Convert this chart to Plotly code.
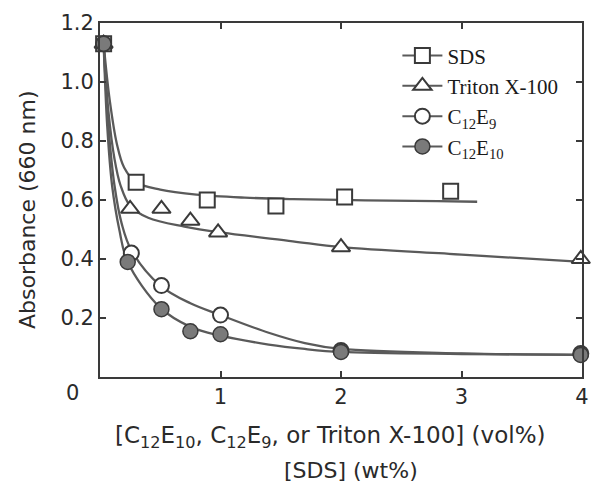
import plotly.graph_objects as go

# ---- measured data points ----
sds_x = [0.03, 0.30, 0.89, 1.46, 2.03, 2.91]
sds_y = [1.13, 0.66, 0.60, 0.58, 0.61, 0.63]

tri_x = [0.03, 0.25, 0.51, 0.75, 0.98, 2.00, 3.99]
tri_y = [1.13, 0.57, 0.57, 0.53, 0.49, 0.44, 0.40]

e9_x = [0.03, 0.26, 0.51, 1.00, 2.00, 3.99]
e9_y = [1.13, 0.42, 0.31, 0.21, 0.09, 0.08]

e10_x = [0.03, 0.23, 0.51, 0.75, 1.00, 2.00, 3.99]
e10_y = [1.13, 0.39, 0.23, 0.155, 0.145, 0.085, 0.075]

# ---- fitted curves ----
sds_fx = [0.03, 0.08, 0.14, 0.20, 0.30, 0.50, 0.80, 1.20, 1.60, 2.20, 2.80, 3.13]
sds_fy = [1.13, 0.94, 0.79, 0.71, 0.66, 0.635, 0.618, 0.608, 0.603, 0.599, 0.596, 0.594]

tri_fx = [0.03, 0.07, 0.12, 0.17, 0.25, 0.40, 0.70, 1.00, 1.60, 2.00, 3.00, 4.00]
tri_fy = [1.13, 0.90, 0.74, 0.65, 0.58, 0.54, 0.51, 0.49, 0.46, 0.44, 0.415, 0.39]

e9_fx = [0.03, 0.07, 0.12, 0.18, 0.26, 0.50, 0.75, 1.00, 1.40, 1.70, 2.00, 3.00, 4.00]
e9_fy = [1.13, 0.85, 0.65, 0.52, 0.43, 0.31, 0.25, 0.21, 0.15, 0.115, 0.095, 0.08, 0.075]

e10_fx = [0.03, 0.06, 0.10, 0.16, 0.23, 0.50, 0.75, 1.00, 1.40, 1.70, 2.00, 3.00, 4.00]
e10_fy = [1.13, 0.85, 0.65, 0.50, 0.39, 0.235, 0.17, 0.14, 0.11, 0.095, 0.085, 0.078, 0.075]

names = ["SDS", "Triton X-100", "C<sub>12</sub>E<sub>9</sub>", "C<sub>12</sub>E<sub>10</sub>"]
symbols = ["square-open", "triangle-up-open", "circle-open", "circle"]

x_ticks = [1, 2, 3, 4]
y_ticks = [0.2, 0.4, 0.6, 0.8, 1.0, 1.2]

LINE = "#5a5a5a"
EDGE = "#3a3a3a"
FILLC = "#7a7a7a"
SANS = "DejaVu Sans, Verdana, Arial"
SERIF = "Liberation Serif, Times New Roman"

fig = go.Figure()

fits = [(sds_fx, sds_fy), (tri_fx, tri_fy), (e9_fx, e9_fy), (e10_fx, e10_fy)]
pts = [(sds_x, sds_y), (tri_x, tri_y), (e9_x, e9_y), (e10_x, e10_y)]

for (fx, fy) in fits:
    fig.add_trace(go.Scatter(x=fx, y=fy, mode="lines", showlegend=False,
                             line=dict(color=LINE, width=2.3, shape="spline", smoothing=1.0),
                             hoverinfo="skip", cliponaxis=False))

def marker_style(sym):
    if sym == "circle":
        return dict(symbol="circle", size=15, color=FILLC, line=dict(color=EDGE, width=1.5))
    size = 15 if sym != "triangle-up-open" else 16
    return dict(symbol=sym.replace("-open", ""), size=size, color="white",
                line=dict(color=EDGE, width=2))

for (px, py), sym in zip(pts, symbols):
    fig.add_trace(go.Scatter(x=px, y=py, mode="markers", showlegend=False,
                             marker=marker_style(sym), cliponaxis=False))

# legend-only entries (line + marker)
for nm, sym in zip(names, symbols):
    fig.add_trace(go.Scatter(x=[None], y=[None], mode="lines+markers", name=nm,
                             line=dict(color=LINE, width=2),
                             marker=marker_style(sym)))

fig.update_layout(
    width=595, height=485,
    margin=dict(l=100, r=6, t=23, b=108),
    paper_bgcolor="white", plot_bgcolor="white",
    font=dict(family=SANS, size=21, color="#2a2a2a"),
    showlegend=True,
    legend=dict(x=0.617, y=0.965, xanchor="left", yanchor="top",
                bgcolor="rgba(0,0,0,0)", borderwidth=0,
                font=dict(family=SERIF, size=21, color="#1a1a1a"),
                tracegroupgap=0, itemwidth=40),
    xaxis=dict(range=[0, 4], tickvals=x_ticks, ticktext=[str(v) for v in x_ticks],
               ticks="inside", ticklen=6, tickwidth=1.5, tickcolor=EDGE,
               showline=True, linecolor=EDGE, linewidth=2, mirror="ticks",
               showgrid=False, zeroline=False, fixedrange=True),
    yaxis=dict(range=[0, 1.2], tickvals=y_ticks, ticktext=[f"{v:.1f}" for v in y_ticks],
               ticks="inside", ticklen=6, tickwidth=1.5, tickcolor=EDGE,
               showline=True, linecolor=EDGE, linewidth=2, mirror="ticks",
               showgrid=False, zeroline=False, fixedrange=True),
    annotations=[
        dict(text="0", xref="paper", yref="paper", x=0, y=0, xanchor="center", yanchor="middle",
             xshift=-28, yshift=-16, showarrow=False, font=dict(size=21)),
        dict(text="Absorbance (660 nm)", xref="paper", yref="paper", x=0, y=0.5,
             xanchor="center", yanchor="middle",
             xshift=-73, yshift=-10, textangle=-90, showarrow=False, font=dict(size=22)),
        dict(text="[C<sub>12</sub>E<sub>10</sub>, C<sub>12</sub>E<sub>9</sub>, or Triton X-100] (vol%)",
             xref="paper", yref="paper", x=0.478, y=0, xanchor="center", yanchor="middle",
             yshift=-60, showarrow=False, font=dict(size=23)),
        dict(text="[SDS] (wt%)", xref="paper", yref="paper", x=0.52, y=0,
             xanchor="center", yanchor="middle", yshift=-93,
             showarrow=False, font=dict(size=22)),
    ],
)

fig.write_html("out.html")
